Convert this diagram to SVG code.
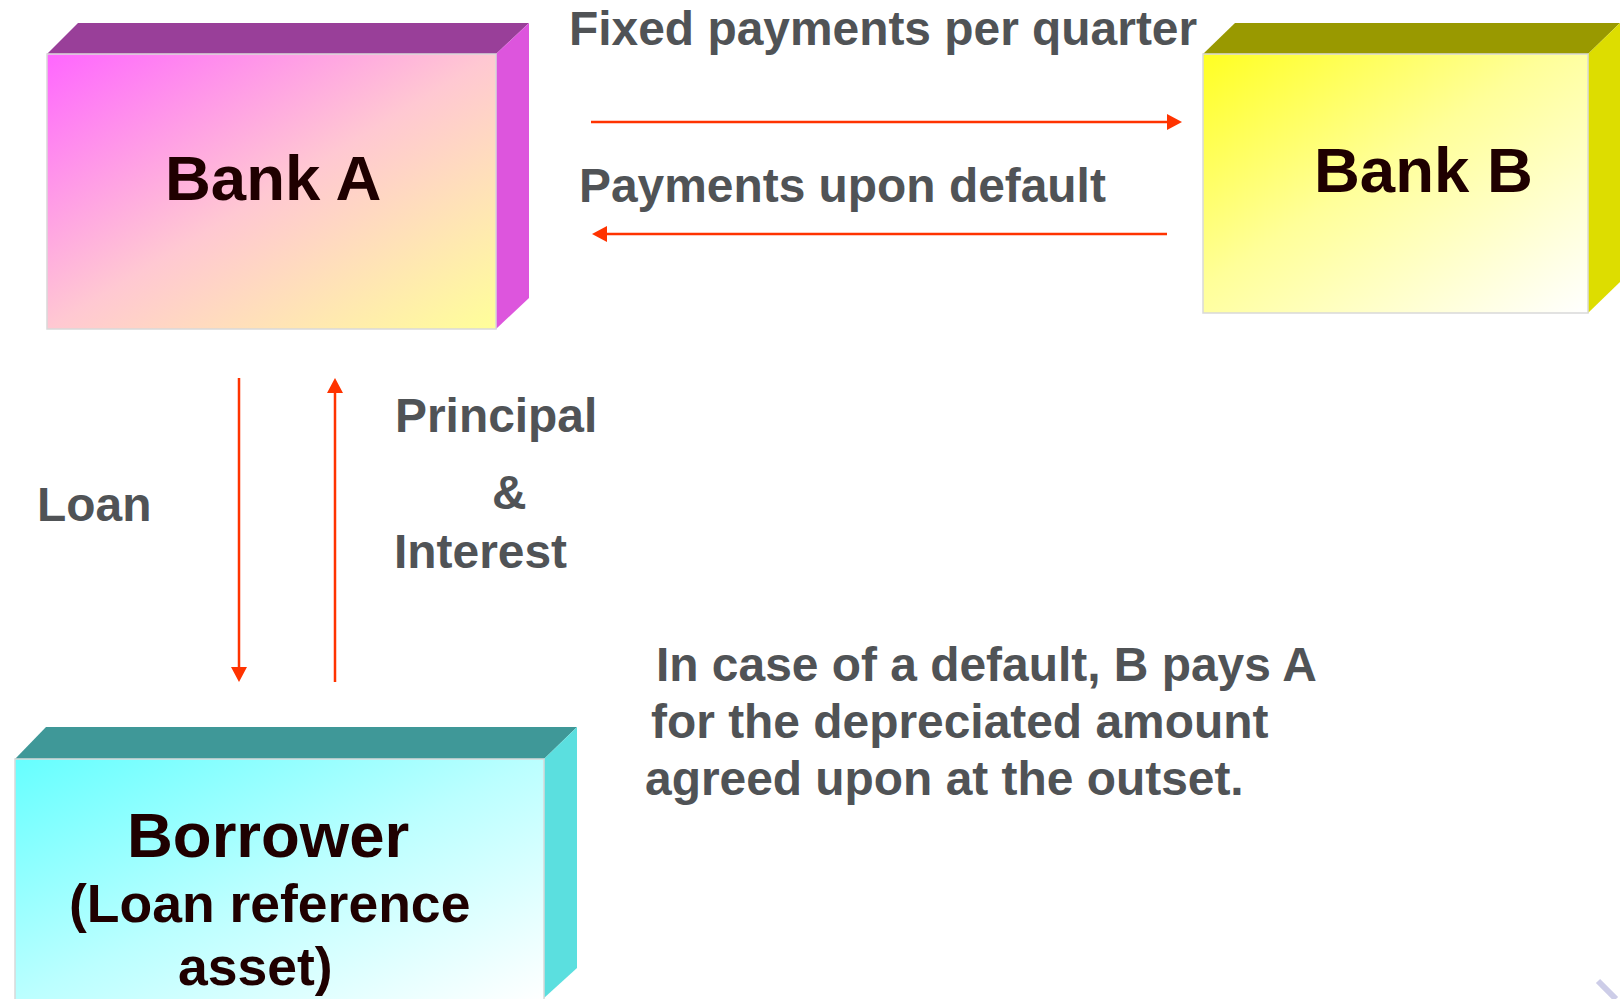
<svg xmlns="http://www.w3.org/2000/svg" width="1621" height="999" viewBox="0 0 1621 999">
  <style>
    .title { font-family: "Liberation Sans", Arial, sans-serif; font-weight: bold; font-size: 63.5px; fill: #1F0000; }
    .sub { font-family: "Liberation Sans", Arial, sans-serif; font-weight: bold; font-size: 53.5px; fill: #1F0000; }
    .lbl { font-family: "Liberation Sans", Arial, sans-serif; font-weight: bold; font-size: 47.9px; fill: #505356; }
    .front { stroke: #D9D9D9; stroke-width: 1.5; }
    .conn { fill: none; stroke: #FF3300; stroke-width: 2.5; }
  </style>
  <defs>
    <linearGradient id="gA" x1="0" y1="0" x2="1" y2="1">
      <stop offset="0" stop-color="#FF66FF"/>
      <stop offset="0.5" stop-color="#FFC8D2"/>
      <stop offset="1" stop-color="#FFFF99"/>
    </linearGradient>
    <linearGradient id="gB" x1="0" y1="0" x2="1" y2="1">
      <stop offset="0" stop-color="#FFFF22"/>
      <stop offset="0.45" stop-color="#FFFF99"/>
      <stop offset="1" stop-color="#FFFFFF"/>
    </linearGradient>
    <linearGradient id="gC" x1="0" y1="0" x2="1" y2="1">
      <stop offset="0" stop-color="#66FFFF"/>
      <stop offset="0.5" stop-color="#BBFFFF"/>
      <stop offset="1" stop-color="#FFFFFF"/>
    </linearGradient>
    <marker id="ah" viewBox="0 0 15 16" markerWidth="15" markerHeight="16" refX="5" refY="8" orient="auto" markerUnits="userSpaceOnUse">
      <path d="M0,0 L15,8 L0,16 z" fill="#FF3300"/>
    </marker>
  </defs>

  <g id="bankA">
    <polygon points="47,54 78,23 529,23 496,54" fill="#993F99"/>
    <polygon points="496,54 529,23 529,298 496,329" fill="#DD55DD"/>
    <rect class="front" x="47" y="54" width="449" height="275" fill="url(#gA)"/>
    <text class="title" x="165" y="200">Bank A</text>
  </g>

  <g id="bankB">
    <polygon points="1203,54 1235,23 1620,23 1588,54" fill="#999900"/>
    <polygon points="1588,54 1620,23 1620,282 1588,313" fill="#DDDD00"/>
    <rect class="front" x="1203" y="54" width="385" height="259" fill="url(#gB)"/>
    <text class="title" x="1314" y="192">Bank B</text>
  </g>

  <g id="borrower">
    <polygon points="15,759 46,727 577,727 544,759" fill="#3F9898"/>
    <polygon points="544,759 577,727 577,968 544,998" fill="#5BDFDF"/>
    <rect class="front" x="15" y="759" width="529" height="242" fill="url(#gC)"/>
    <text class="title" x="127" y="857">Borrower</text>
    <text class="sub" x="69" y="922">(Loan reference</text>
    <text class="sub" x="178" y="985">asset)</text>
  </g>

  <g id="connectors">
    <path class="conn" d="M591,122 H1172" marker-end="url(#ah)"/>
    <path class="conn" d="M1167,234 H602" marker-end="url(#ah)"/>
    <path class="conn" d="M239,378 V672" marker-end="url(#ah)"/>
    <path class="conn" d="M335,682 V388" marker-end="url(#ah)"/>
  </g>

  <g id="labels">
    <text class="lbl" x="569" y="45">Fixed payments per quarter</text>
    <text class="lbl" x="579" y="202">Payments upon default</text>
    <text class="lbl" x="37" y="521">Loan</text>
    <text class="lbl" x="395" y="432">Principal</text>
    <text class="lbl" x="492" y="509">&amp;</text>
    <text class="lbl" x="394" y="568">Interest</text>
    <text class="lbl" x="656" y="681">In case of a default, B pays A</text>
    <text class="lbl" x="651" y="738">for the depreciated amount</text>
    <text class="lbl" x="645" y="795">agreed upon at the outset.</text>
  </g>

  <line x1="1598" y1="981" x2="1616" y2="999" stroke="#CDCDE8" stroke-width="6"/>
</svg>
